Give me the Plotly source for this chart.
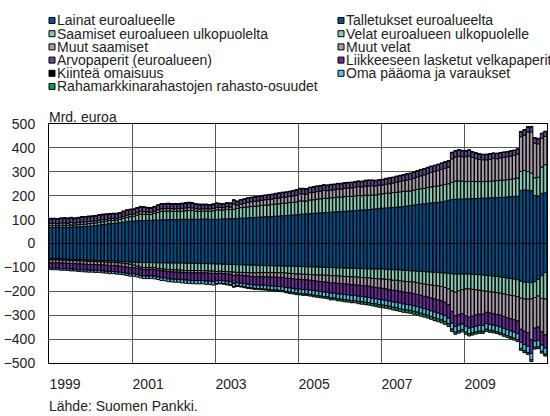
import pandas as pd
import plotly.graph_objects as go

# Monthly data, Jan 1999 - Dec 2010, bn euro (one row = one year)
lainat = [
    67, 67, 67, 68, 68, 68, 69, 69, 70, 70, 71, 72,
    73, 75, 77, 79, 81, 83, 84, 85, 87, 89, 91, 93,
    94, 95, 96, 96, 97, 97, 98, 98, 99, 99, 100, 100,
    100, 100, 101, 101, 101, 102, 101, 101, 102, 102, 101, 101,
    101, 102, 103, 103, 104, 104, 105, 106, 106, 107, 108, 109,
    110, 111, 112, 112, 113, 114, 115, 116, 117, 118, 119, 120,
    122, 123, 124, 125, 126, 127, 128, 129, 130, 131, 132, 133,
    134, 135, 136, 137, 138, 139, 140, 141, 142, 144, 145, 147,
    148, 149, 150, 151, 152, 153, 155, 157, 159, 161, 163, 165,
    166, 168, 170, 171, 172, 174, 177, 181, 184, 185, 186, 186,
    187, 187, 188, 188, 189, 190, 190, 191, 192, 192, 193, 193,
    195, 196, 197, 198, 222, 224, 223, 221, 201, 199, 210, 212,
]
saamiset_ulk = [
    8, 8, 7, 8, 8, 8, 9, 8, 9, 10, 10, 11,
    11, 11, 12, 12, 12, 13, 13, 13, 14, 16, 18, 19,
    20, 24, 27, 26, 25, 24, 28, 32, 35, 36, 36, 35,
    34, 35, 35, 36, 37, 36, 34, 33, 33, 34, 34, 36,
    40, 38, 37, 40, 38, 39, 42, 44, 45, 46, 47, 47,
    47, 48, 49, 49, 50, 51, 51, 52, 52, 53, 53, 54,
    56, 55, 54, 57, 57, 58, 59, 60, 59, 60, 60, 61,
    60, 61, 61, 60, 61, 62, 60, 61, 60, 59, 58, 59,
    60, 61, 61, 62, 62, 63, 63, 62, 61, 62, 63, 64,
    65, 66, 67, 68, 69, 70, 70, 69, 72, 76, 76, 75,
    72, 73, 72, 71, 70, 69, 70, 69, 70, 71, 72, 72,
    72, 73, 74, 76, 80, 82, 78, 74, 74, 78, 110, 118,
]
muut_saamiset = [
    10, 10, 9, 10, 10, 9, 10, 9, 9, 10, 10, 9,
    9, 9, 9, 9, 8, 8, 8, 8, 8, 9, 10, 10,
    10, 10, 11, 11, 10, 10, 10, 11, 11, 11, 11, 11,
    11, 11, 11, 12, 12, 11, 11, 10, 10, 10, 10, 10,
    11, 11, 10, 11, 11, 22, 13, 15, 17, 19, 20, 21,
    21, 22, 22, 23, 23, 24, 24, 25, 25, 26, 27, 28,
    30, 30, 29, 31, 31, 32, 32, 33, 32, 33, 33, 34,
    34, 35, 35, 36, 36, 37, 37, 38, 39, 39, 38, 38,
    37, 38, 39, 40, 42, 43, 45, 46, 48, 50, 52, 54,
    56, 58, 60, 62, 64, 66, 68, 70, 98, 100, 103, 102,
    104, 106, 100, 96, 93, 91, 90, 92, 94, 92, 93, 95,
    96, 97, 98, 100, 145, 148, 165, 172, 145, 140, 120, 118,
]
arvopaperit = [
    18, 18, 18, 18, 19, 19, 19, 18, 19, 20, 20, 20,
    20, 20, 20, 20, 20, 19, 19, 18, 18, 19, 19, 19,
    18, 19, 19, 18, 17, 17, 17, 18, 19, 19, 19, 19,
    19, 19, 19, 19, 20, 19, 18, 18, 17, 16, 16, 16,
    16, 15, 15, 15, 15, 16, 16, 17, 17, 17, 17, 17,
    18, 18, 18, 19, 19, 19, 20, 20, 20, 20, 21, 21,
    21, 21, 21, 21, 22, 22, 22, 22, 22, 22, 22, 22,
    22, 22, 22, 22, 22, 22, 22, 23, 23, 22, 22, 22,
    22, 23, 23, 23, 24, 24, 24, 25, 25, 25, 25, 25,
    25, 25, 25, 25, 25, 25, 25, 25, 26, 26, 26, 25,
    24, 24, 23, 23, 22, 22, 22, 22, 21, 21, 21, 21,
    20, 20, 20, 20, 20, 21, 21, 21, 21, 21, 20, 20,
]
kiintea = [
    2, 2, 2, 2, 2, 2, 2, 2, 2, 2, 2, 2,
    2, 2, 2, 2, 2, 2, 2, 2, 2, 2, 2, 2,
    2, 2, 2, 2, 2, 2, 2, 2, 2, 2, 2, 2,
    2, 2, 2, 2, 2, 2, 2, 2, 2, 2, 2, 2,
    2, 2, 2, 2, 2, 2, 2, 2, 2, 2, 2, 2,
    2, 2, 2, 2, 2, 2, 2, 2, 2, 2, 2, 2,
    2, 2, 2, 2, 2, 2, 2, 2, 2, 2, 2, 2,
    2, 2, 2, 2, 2, 2, 2, 2, 2, 2, 2, 2,
    2, 2, 2, 2, 2, 2, 2, 2, 2, 2, 2, 2,
    2, 2, 2, 2, 2, 2, 2, 2, 2, 2, 2, 2,
    2, 2, 2, 2, 2, 2, 2, 2, 2, 2, 2, 2,
    2, 2, 2, 2, 2, 2, 2, 2, 2, 2, 2, 2,
]

# liabilities (magnitudes, drawn below zero)
talletukset = [
    65, 65, 65, 66, 66, 66, 67, 67, 68, 68, 69, 70,
    70, 71, 71, 72, 72, 73, 73, 74, 75, 76, 77, 78,
    79, 79, 79, 80, 80, 80, 80, 81, 81, 81, 82, 82,
    82, 82, 82, 83, 83, 83, 83, 84, 84, 84, 85, 85,
    86, 86, 87, 87, 88, 88, 89, 89, 90, 90, 91, 91,
    92, 92, 93, 93, 93, 94, 94, 94, 95, 95, 95, 96,
    96, 97, 97, 98, 98, 99, 99, 100, 100, 101, 101, 102,
    102, 103, 103, 104, 104, 105, 105, 106, 106, 107, 107, 107,
    107, 108, 109, 110, 110, 111, 112, 113, 114, 115, 116, 117,
    118, 119, 120, 121, 122, 123, 124, 125, 127, 128, 128, 128,
    128, 128, 129, 130, 131, 132, 134, 135, 137, 138, 140, 142,
    145, 147, 149, 152, 158, 162, 163, 164, 160, 150, 135, 122,
]
velat_ulk = [
    4, 4, 4, 4, 4, 5, 5, 5, 5, 5, 5, 5,
    5, 5, 5, 5, 6, 6, 6, 6, 6, 7, 8, 9,
    12, 16, 20, 21, 21, 20, 21, 23, 25, 26, 27, 28,
    29, 29, 30, 30, 31, 30, 30, 29, 29, 30, 30, 31,
    31, 30, 30, 31, 31, 32, 32, 32, 32, 32, 32, 32,
    30, 30, 29, 29, 29, 28, 28, 28, 29, 30, 31, 32,
    32, 32, 32, 32, 33, 33, 33, 33, 33, 34, 34, 34,
    35, 35, 35, 36, 36, 36, 37, 37, 38, 39, 40, 41,
    42, 42, 43, 44, 44, 45, 46, 46, 46, 47, 48, 50,
    52, 53, 54, 55, 56, 57, 60, 65, 72, 76, 70, 65,
    62, 62, 63, 64, 65, 66, 66, 67, 67, 68, 68, 69,
    69, 70, 70, 70, 71, 70, 70, 68, 66, 70, 95, 110,
]
muut_velat = [
    12, 12, 12, 12, 12, 12, 12, 12, 13, 13, 13, 13,
    13, 13, 13, 13, 13, 13, 13, 14, 14, 14, 14, 14,
    10, 9, 8, 8, 8, 8, 8, 8, 8, 8, 9, 9,
    9, 9, 9, 9, 9, 10, 10, 10, 10, 10, 10, 10,
    9, 9, 9, 10, 10, 14, 11, 12, 13, 14, 15, 16,
    17, 17, 18, 18, 19, 19, 20, 20, 21, 21, 22, 22,
    22, 23, 23, 24, 25, 26, 27, 28, 29, 30, 30, 31,
    31, 32, 32, 33, 33, 34, 34, 35, 35, 36, 37, 38,
    39, 40, 41, 42, 43, 44, 45, 46, 47, 48, 49, 50,
    51, 52, 54, 56, 58, 60, 62, 66, 85, 98, 100, 100,
    112, 118, 112, 105, 100, 98, 88, 89, 90, 91, 92, 94,
    96, 98, 100, 102, 130, 135, 140, 170, 128, 130, 140, 150,
]
velkapaperit = [
    22, 22, 22, 23, 23, 23, 23, 24, 24, 24, 24, 24,
    24, 24, 24, 25, 25, 25, 25, 25, 25, 25, 26, 26,
    26, 26, 27, 27, 27, 28, 28, 28, 29, 29, 30, 30,
    30, 30, 31, 31, 31, 32, 32, 32, 32, 33, 33, 33,
    30, 30, 30, 30, 31, 33, 32, 33, 33, 34, 34, 35,
    35, 36, 36, 37, 37, 38, 38, 39, 39, 40, 40, 41,
    41, 41, 41, 41, 41, 41, 42, 42, 42, 43, 43, 44,
    44, 44, 45, 45, 45, 46, 46, 46, 47, 47, 47, 48,
    48, 48, 48, 49, 49, 49, 50, 50, 50, 51, 51, 52,
    52, 53, 54, 55, 55, 56, 56, 56, 50, 45, 44, 44,
    45, 46, 46, 47, 47, 47, 47, 48, 48, 48, 49, 50,
    50, 51, 52, 53, 55, 56, 57, 58, 54, 56, 55, 55,
]
oma_paaoma = [
    6, 7, 7, 7, 7, 7, 8, 7, 7, 8, 8, 8,
    8, 8, 8, 8, 8, 9, 9, 9, 9, 9, 9, 10,
    10, 10, 10, 11, 11, 11, 11, 11, 12, 12, 12, 12,
    12, 12, 13, 13, 13, 13, 14, 14, 14, 14, 14, 15,
    12, 12, 12, 12, 13, 13, 13, 13, 14, 14, 14, 14,
    15, 15, 15, 15, 16, 16, 16, 16, 17, 17, 17, 17,
    18, 18, 18, 18, 19, 19, 19, 19, 19, 20, 20, 21,
    21, 21, 21, 21, 21, 21, 22, 22, 22, 22, 22, 22,
    22, 22, 22, 22, 23, 23, 23, 23, 23, 23, 23, 23,
    23, 23, 23, 24, 24, 24, 24, 24, 24, 24, 24, 24,
    24, 24, 24, 24, 24, 24, 24, 24, 24, 24, 25, 25,
    25, 25, 25, 25, 25, 26, 26, 26, 26, 26, 26, 26,
]
rahasto_osuudet = [
    0, 0, 0, 0, 0, 0, 0, 0, 0, 0, 0, 0,
    0, 0, 0, 0, 0, 0, 0, 0, 0, 0, 0, 0,
    0, 0, 0, 0, 0, 0, 0, 0, 0, 0, 0, 0,
    0, 0, 0, 0, 0, 0, 0, 0, 0, 0, 0, 0,
    2, 2, 2, 3, 3, 3, 3, 3, 3, 4, 4, 4,
    4, 4, 4, 5, 5, 5, 5, 5, 5, 6, 6, 6,
    6, 6, 6, 7, 7, 7, 7, 7, 8, 8, 8, 8,
    8, 9, 9, 9, 9, 10, 10, 10, 10, 10, 11, 11,
    11, 11, 11, 11, 12, 12, 12, 12, 12, 12, 12, 12,
    12, 12, 12, 12, 12, 12, 12, 11, 10, 9, 9, 9,
    9, 9, 9, 9, 9, 9, 9, 9, 8, 8, 8, 8,
    8, 8, 8, 8, 8, 8, 8, 8, 8, 8, 8, 8,
]

year_labels = ["1999", "2001", "2003", "2005", "2007", "2009"]
y_ticks = [500, 400, 300, 200, 100, 0, -100, -200, -300, -400, -500]

# legend order = trace order (assets and liabilities interleaved)
series = [
    ("Lainat euroalueelle", lainat, 1, "#00508C"),
    ("Talletukset euroalueelta", talletukset, -1, "#00508C"),
    ("Saamiset euroalueen ulkopuolelta", saamiset_ulk, 1, "#86CBB5"),
    ("Velat euroalueen ulkopuolelle", velat_ulk, -1, "#86CBB5"),
    ("Muut saamiset", muut_saamiset, 1, "#A99CAB"),
    ("Muut velat", muut_velat, -1, "#A99CAB"),
    ("Arvopaperit (euroalueen)", arvopaperit, 1, "#634A92"),
    ("Liikkeeseen lasketut velkapaperit", velkapaperit, -1, "#6A2C9C"),
    ("Kiinteä omaisuus", kiintea, 1, "#000000"),
    ("Oma pääoma ja varaukset", oma_paaoma, -1, "#55C3EE"),
    ("Rahamarkkinarahastojen rahasto-osuudet", rahasto_osuudet, -1, "#00A04E"),
]

months = pd.date_range("1999-01-01", periods=len(lainat), freq="MS")

FONT = "Liberation Sans, Arial, sans-serif"
W, H = 550, 416
ML, MR, MT, MB = 49, 3, 124, 53


def px_x(x):
    return (x - ML) / (W - ML - MR)


def px_y(y):
    return (H - MB - y) / (H - MT - MB)


fig = go.Figure()
for name, vals, sign, color in series:
    fig.add_trace(go.Bar(
        x=months,
        y=[sign * v for v in vals],
        xperiod="M1",
        xperiodalignment="middle",
        name=name,
        marker=dict(color=color, line=dict(color="#000000", width=1)),
    ))

# hand-built legend, two columns like the original
shapes = []
annotations = []
for i, (name, vals, sign, color) in enumerate(series):
    col = i % 2
    row = i // 2
    x0 = 49 if col == 0 else 338
    yc = 20.5 + row * 13.2
    shapes.append(dict(
        type="rect", xref="paper", yref="paper",
        x0=px_x(x0), x1=px_x(x0 + 6), y0=px_y(yc + 3), y1=px_y(yc - 3),
        fillcolor=color, line=dict(color="#000000", width=1),
    ))
    annotations.append(dict(
        text=name, xref="paper", yref="paper", x=px_x(x0 + 7), y=px_y(yc),
        xanchor="left", yanchor="middle", showarrow=False, borderpad=0,
        font=dict(size=14, color="#222222", family=FONT),
    ))

annotations.append(dict(
    text="Mrd. euroa", xref="paper", yref="paper", x=px_x(48), y=px_y(117),
    xanchor="left", yanchor="middle", showarrow=False, borderpad=0,
    font=dict(size=14, color="#222222", family=FONT),
))
annotations.append(dict(
    text="Lähde: Suomen Pankki.", xref="paper", yref="paper", x=px_x(48), y=px_y(406),
    xanchor="left", yanchor="middle", showarrow=False, borderpad=0,
    font=dict(size=14, color="#222222", family=FONT),
))

fig.update_layout(
    barmode="relative",
    bargap=0.1,
    width=W,
    height=H,
    margin=dict(l=ML, r=MR, t=MT, b=MB, autoexpand=False),
    paper_bgcolor="white",
    plot_bgcolor="white",
    showlegend=False,
    font=dict(family=FONT, size=14, color="#222222"),
    shapes=shapes,
    annotations=annotations,
    xaxis=dict(
        type="date",
        range=["1999-01-01", "2011-01-01"],
        tickvals=[f"{y}-01-01" for y in year_labels],
        ticktext=year_labels,
        ticklabelposition="outside right",
        ticklabelstandoff=8,
        ticks="",
        automargin=False,
        showgrid=True,
        gridcolor="#555555",
        gridwidth=1,
        showline=True,
        linecolor="#000000",
        linewidth=1,
        mirror=True,
    ),
    yaxis=dict(
        range=[-500, 500],
        tickvals=y_ticks,
        ticks="",
        ticklabelstandoff=10,
        automargin=False,
        showgrid=True,
        gridcolor="#555555",
        gridwidth=1,
        zeroline=True,
        zerolinecolor="#000000",
        zerolinewidth=1,
        showline=True,
        linecolor="#000000",
        linewidth=1,
        mirror=True,
    ),
)

# the page's default body margin would shift the whole chart by 8 px
fig.write_html(
    "out.html",
    config={"displayModeBar": False},
    post_script="document.body.style.margin = '0';",
)
